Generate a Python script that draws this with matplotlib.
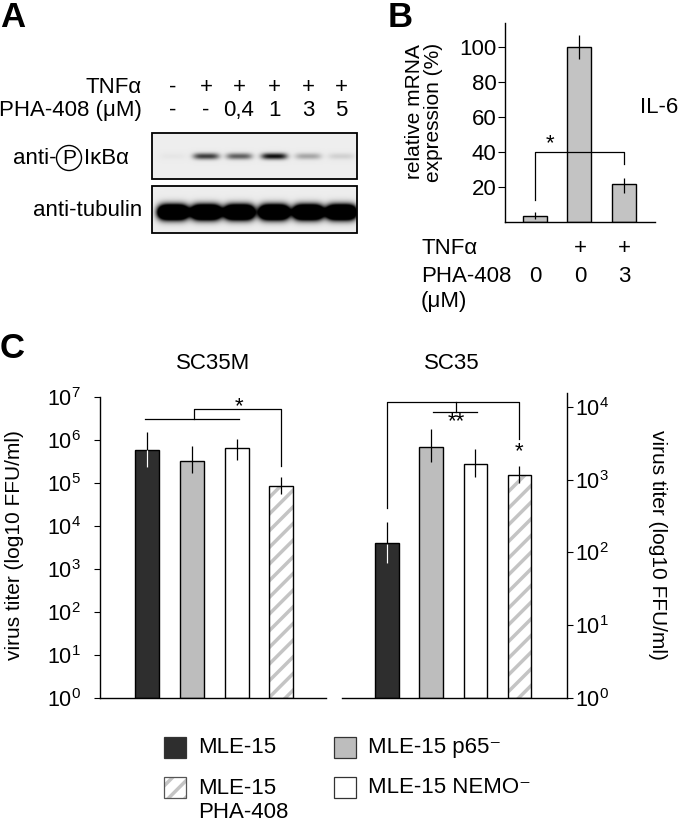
import matplotlib
matplotlib.use("Agg")
import matplotlib.pyplot as plt
import numpy as np
from matplotlib.patches import Circle, Rectangle

plt.rcParams["font.family"] = ["Liberation Sans", "DejaVu Sans"]
plt.rcParams["mathtext.fontset"] = "custom"
plt.rcParams["mathtext.rm"] = "Liberation Sans"
plt.rcParams["hatch.linewidth"] = 2.5
plt.rcParams["axes.linewidth"] = 1.0

# ---- data ----
# panel A: western blot lanes
lane_tnf = ["-", "+", "+", "+", "+", "+"]
lane_pha = ["-", "-", "0,4", "1", "3", "5"]
pikba_band = [0.03, 0.75, 0.6, 0.95, 0.3, 0.12]
tubulin_band = [1.0, 1.0, 1.0, 1.0, 1.0, 1.0]

# panel B: IL-6 mRNA
b_tnf = ["", "+", "+"]
b_pha = ["0", "0", "3"]
b_mean = [3.4, 100.0, 21.6]
b_err_lo = [1.7, 93.0, 16.8]
b_err_hi = [5.7, 107.0, 25.0]

# panel C: virus titers
groups = ["MLE-15", "MLE-15 p65\u207b", "MLE-15 NEMO\u207b", "MLE-15\nPHA-408"]
sc35m_mean = [6.0e5, 3.3e5, 6.6e5, 8.3e4]
sc35m_lo = [2.4e5, 1.7e5, 3.5e5, 5.5e4]
sc35m_hi = [1.5e6, 7.1e5, 1.07e6, 1.4e5]
sc35_mean = [135, 2800, 1660, 1170]
sc35_lo = [72, 1740, 1100, 910]
sc35_hi = [263, 5000, 2630, 1550]
c_ticks_left = [1, 10, 100, 1e3, 1e4, 1e5, 1e6, 1e7]
c_ticks_right = [1, 10, 100, 1e3, 1e4]

W, H = 680, 823
FS = 16


def rect(x0, y0, x1, y1):
    return [x0 / W, 1 - y1 / H, (x1 - x0) / W, (y1 - y0) / H]


fig = plt.figure(figsize=(W / 100, H / 100), dpi=100)

# overlay axes in pixel coordinates for panel A and free text
ov = fig.add_axes([0, 0, 1, 1], zorder=5)
ov.set_xlim(0, W)
ov.set_ylim(H, 0)
ov.axis("off")
ov.patch.set_alpha(0)

# ---- panel A ----
ov.text(0, 1, "A", fontsize=25, fontweight="bold", va="top", ha="left")
ov.text(142, 87, "TNF\u03b1", fontsize=FS, ha="right", va="center")
ov.text(142, 110, "PHA-408 (\u03bcM)", fontsize=FS, ha="right", va="center")
lane_x = np.array([173, 206, 239, 274, 308, 341])
for lx, t, p in zip(lane_x, lane_tnf, lane_pha):
    ov.text(lx, 87, t, fontsize=FS, ha="center", va="center")
    ov.text(lx, 110, p, fontsize=FS, ha="center", va="center")

ov.text(56, 158, "anti-", fontsize=FS, ha="right", va="center")
ov.add_patch(Circle((69, 158), 12.5, fill=False, lw=1.0, ec="black"))
ov.text(69, 158.5, "P", fontsize=FS - 1, ha="center", va="center")
ov.text(84, 158, "I\u03baB\u03b1", fontsize=FS, ha="left", va="center")
ov.text(142, 210, "anti-tubulin", fontsize=FS, ha="right", va="center")


def blot(x0, x1, y0, y1, cy, dens, wx, wy, px, py):
    xs = np.arange(x0, x1, 0.5)
    ys = np.arange(y0, y1, 0.5)
    X, Y = np.meshgrid(xs, ys)
    d = np.zeros_like(X)
    for lx, v in zip(lane_x, dens):
        d += v * np.exp(-np.abs((X - lx) / wx) ** px) * np.exp(-np.abs((Y - cy) / wy) ** py)
    img = 0.93 * (1 - np.clip(d, 0, 1))
    ov.imshow(img, cmap="gray", vmin=0, vmax=1, extent=(x0, x1, y1, y0),
              aspect="auto", interpolation="bilinear")
    ov.add_patch(Rectangle((x0, y0), x1 - x0, y1 - y0, fill=False, lw=1.3, ec="black"))


blot(152, 357, 133, 179, 156, pikba_band, 13, 3.2, 4, 2)
blot(152, 357, 186, 233, 212, np.array(tubulin_band) * 3, 15, 7, 4, 2)

# ---- panel B ----
ov.text(388, 1, "B", fontsize=25, fontweight="bold", va="top", ha="left")
axb = fig.add_axes(rect(505, 23, 655, 222))
xb = np.arange(3)
axb.bar(xb, b_mean, width=0.54, color="#c3c3c3", edgecolor="black", lw=1.0, zorder=2)
axb.vlines(xb, b_err_lo, b_err_hi, color="black", lw=0.9, zorder=3)
axb.set_xlim(-0.674, 2.70)
axb.set_ylim(0, 113.7)
axb.set_yticks([20, 40, 60, 80, 100])
axb.set_xticks([])
for s in ["top", "right"]:
    axb.spines[s].set_visible(False)
axb.tick_params(axis="y", labelsize=FS, length=5, pad=1)
# significance bracket
axb.plot([0, 0, 2, 2], [12.5, 40, 40, 33], color="black", lw=0.9, zorder=4)
axb.text(0.33, 45, "*", fontsize=FS, ha="center", va="center")
ov.text(640, 107, "IL-6", fontsize=FS, ha="left", va="center")
ov.text(424, 112, "relative mRNA\nexpression (%)", fontsize=FS - 1, rotation=90,
        ha="center", va="center", linespacing=1.0)

bx = [535, 580, 624]
ov.text(421, 248, "TNF\u03b1", fontsize=FS, ha="left", va="center")
ov.text(421, 277, "PHA-408", fontsize=FS, ha="left", va="center")
ov.text(421, 302, "(\u03bcM)", fontsize=FS, ha="left", va="center")
for x, t, p in zip(bx, b_tnf, b_pha):
    ov.text(x, 248, t, fontsize=FS, ha="center", va="center")
    ov.text(x, 277, p, fontsize=FS, ha="center", va="center")

# ---- panel C ----
ov.text(0, 348, "C", fontsize=25, fontweight="bold", va="center", ha="left")
colors = ["#2e2e2e", "#bdbdbd", "white", "white"]
xc = np.arange(4)


def virus_bars(ax, mean, lo, hi):
    for i in range(4):
        if i == 3:
            ax.bar(xc[i], mean[i], width=0.54, bottom=1, color="white",
                   edgecolor="#c4c4c4", hatch="//", lw=0, zorder=2)
            ax.bar(xc[i], mean[i], width=0.54, bottom=1, fill=False,
                   edgecolor="black", lw=1.0, zorder=3)
        else:
            ax.bar(xc[i], mean[i], width=0.54, bottom=1, color=colors[i],
                   edgecolor="black", lw=1.0, zorder=2)
    ax.vlines(xc, lo, hi, color="black", lw=0.9, zorder=4)
    ax.vlines(xc[0], lo[0], mean[0] * 0.97, color="white", lw=0.9, zorder=5)
    ax.set_yscale("log")
    ax.set_xticks([])
    ax.minorticks_off()
    ax.spines["top"].set_visible(False)


axl = fig.add_axes(rect(100, 397, 326, 698))
virus_bars(axl, sc35m_mean, sc35m_lo, sc35m_hi)
axl.set_xlim(-1.06, 4.0)
axl.set_ylim(1, 1e7)
axl.set_yticks(c_ticks_left)
axl.set_yticklabels(["10$^{%d}$" % int(round(np.log10(t))) for t in c_ticks_left])
axl.spines["right"].set_visible(False)
axl.tick_params(axis="y", labelsize=FS - 0.5, length=4, pad=10)
axl.minorticks_off()
axl.plot([-0.05, 2.05], [10 ** 6.49] * 2, color="black", lw=0.9)
axl.plot([1.04, 1.04, 3.0, 3.0], [10 ** 6.49, 10 ** 6.72, 10 ** 6.72, 10 ** 5.40],
         color="black", lw=0.9)
axl.text(2.05, 10 ** 6.78, "*", fontsize=FS, ha="center", va="center")
ov.text(213, 363, "SC35M", fontsize=FS, ha="center", va="center")

axr = fig.add_axes(rect(342, 393, 567, 698))
virus_bars(axr, sc35_mean, sc35_lo, sc35_hi)
axr.set_xlim(-1.03, 4.08)
axr.set_ylim(1, 10 ** 4.19)
axr.set_yticks(c_ticks_right)
axr.set_yticklabels(["10$^{%d}$" % int(round(np.log10(t))) for t in c_ticks_right])
axr.spines["left"].set_visible(False)
axr.yaxis.tick_right()
axr.tick_params(axis="y", labelsize=FS - 0.5, length=4, pad=2)
axr.minorticks_off()
axr.plot([0, 0, 3.0, 3.0], [10 ** 2.61, 10 ** 4.07, 10 ** 4.07, 10 ** 3.56],
         color="black", lw=0.9)
axr.plot([1.56, 1.56], [10 ** 4.07, 10 ** 3.93], color="black", lw=0.9)
axr.plot([1.03, 2.03], [10 ** 3.93] * 2, color="black", lw=0.9)
axr.text(1.56, 10 ** 3.80, "**", fontsize=FS, ha="center", va="center")
axr.text(3.0, 10 ** 3.38, "*", fontsize=FS, ha="center", va="center")
ov.text(452, 363, "SC35", fontsize=FS, ha="center", va="center")

ov.text(15, 545, "virus titer (log10 FFU/ml)", fontsize=FS - 1, rotation=90,
        ha="center", va="center")
ov.text(657, 545, "virus titer (log10 FFU/ml)", fontsize=FS - 1, rotation=270,
        ha="center", va="center")

# legend
leg_pos = [(164, 737), (334, 737), (334, 777), (164, 777)]
for i, (g, (lx, ly)) in enumerate(zip(groups, leg_pos)):
    if i == 3:
        ov.add_patch(Rectangle((lx, ly), 22, 21, facecolor="white", edgecolor="#c4c4c4",
                               hatch="//", lw=0))
        ov.add_patch(Rectangle((lx, ly), 22, 21, fill=False, edgecolor="#555555", lw=0.9))
    else:
        ov.add_patch(Rectangle((lx, ly), 22, 21, facecolor=colors[i], edgecolor="#333333",
                               lw=0.9))
    ov.text(lx + 34, ly + 10.5 - (0 if "\n" not in g else -13), g, fontsize=FS,
            ha="left", va="center", linespacing=1.15)

fig.savefig("out.png", dpi=100)
